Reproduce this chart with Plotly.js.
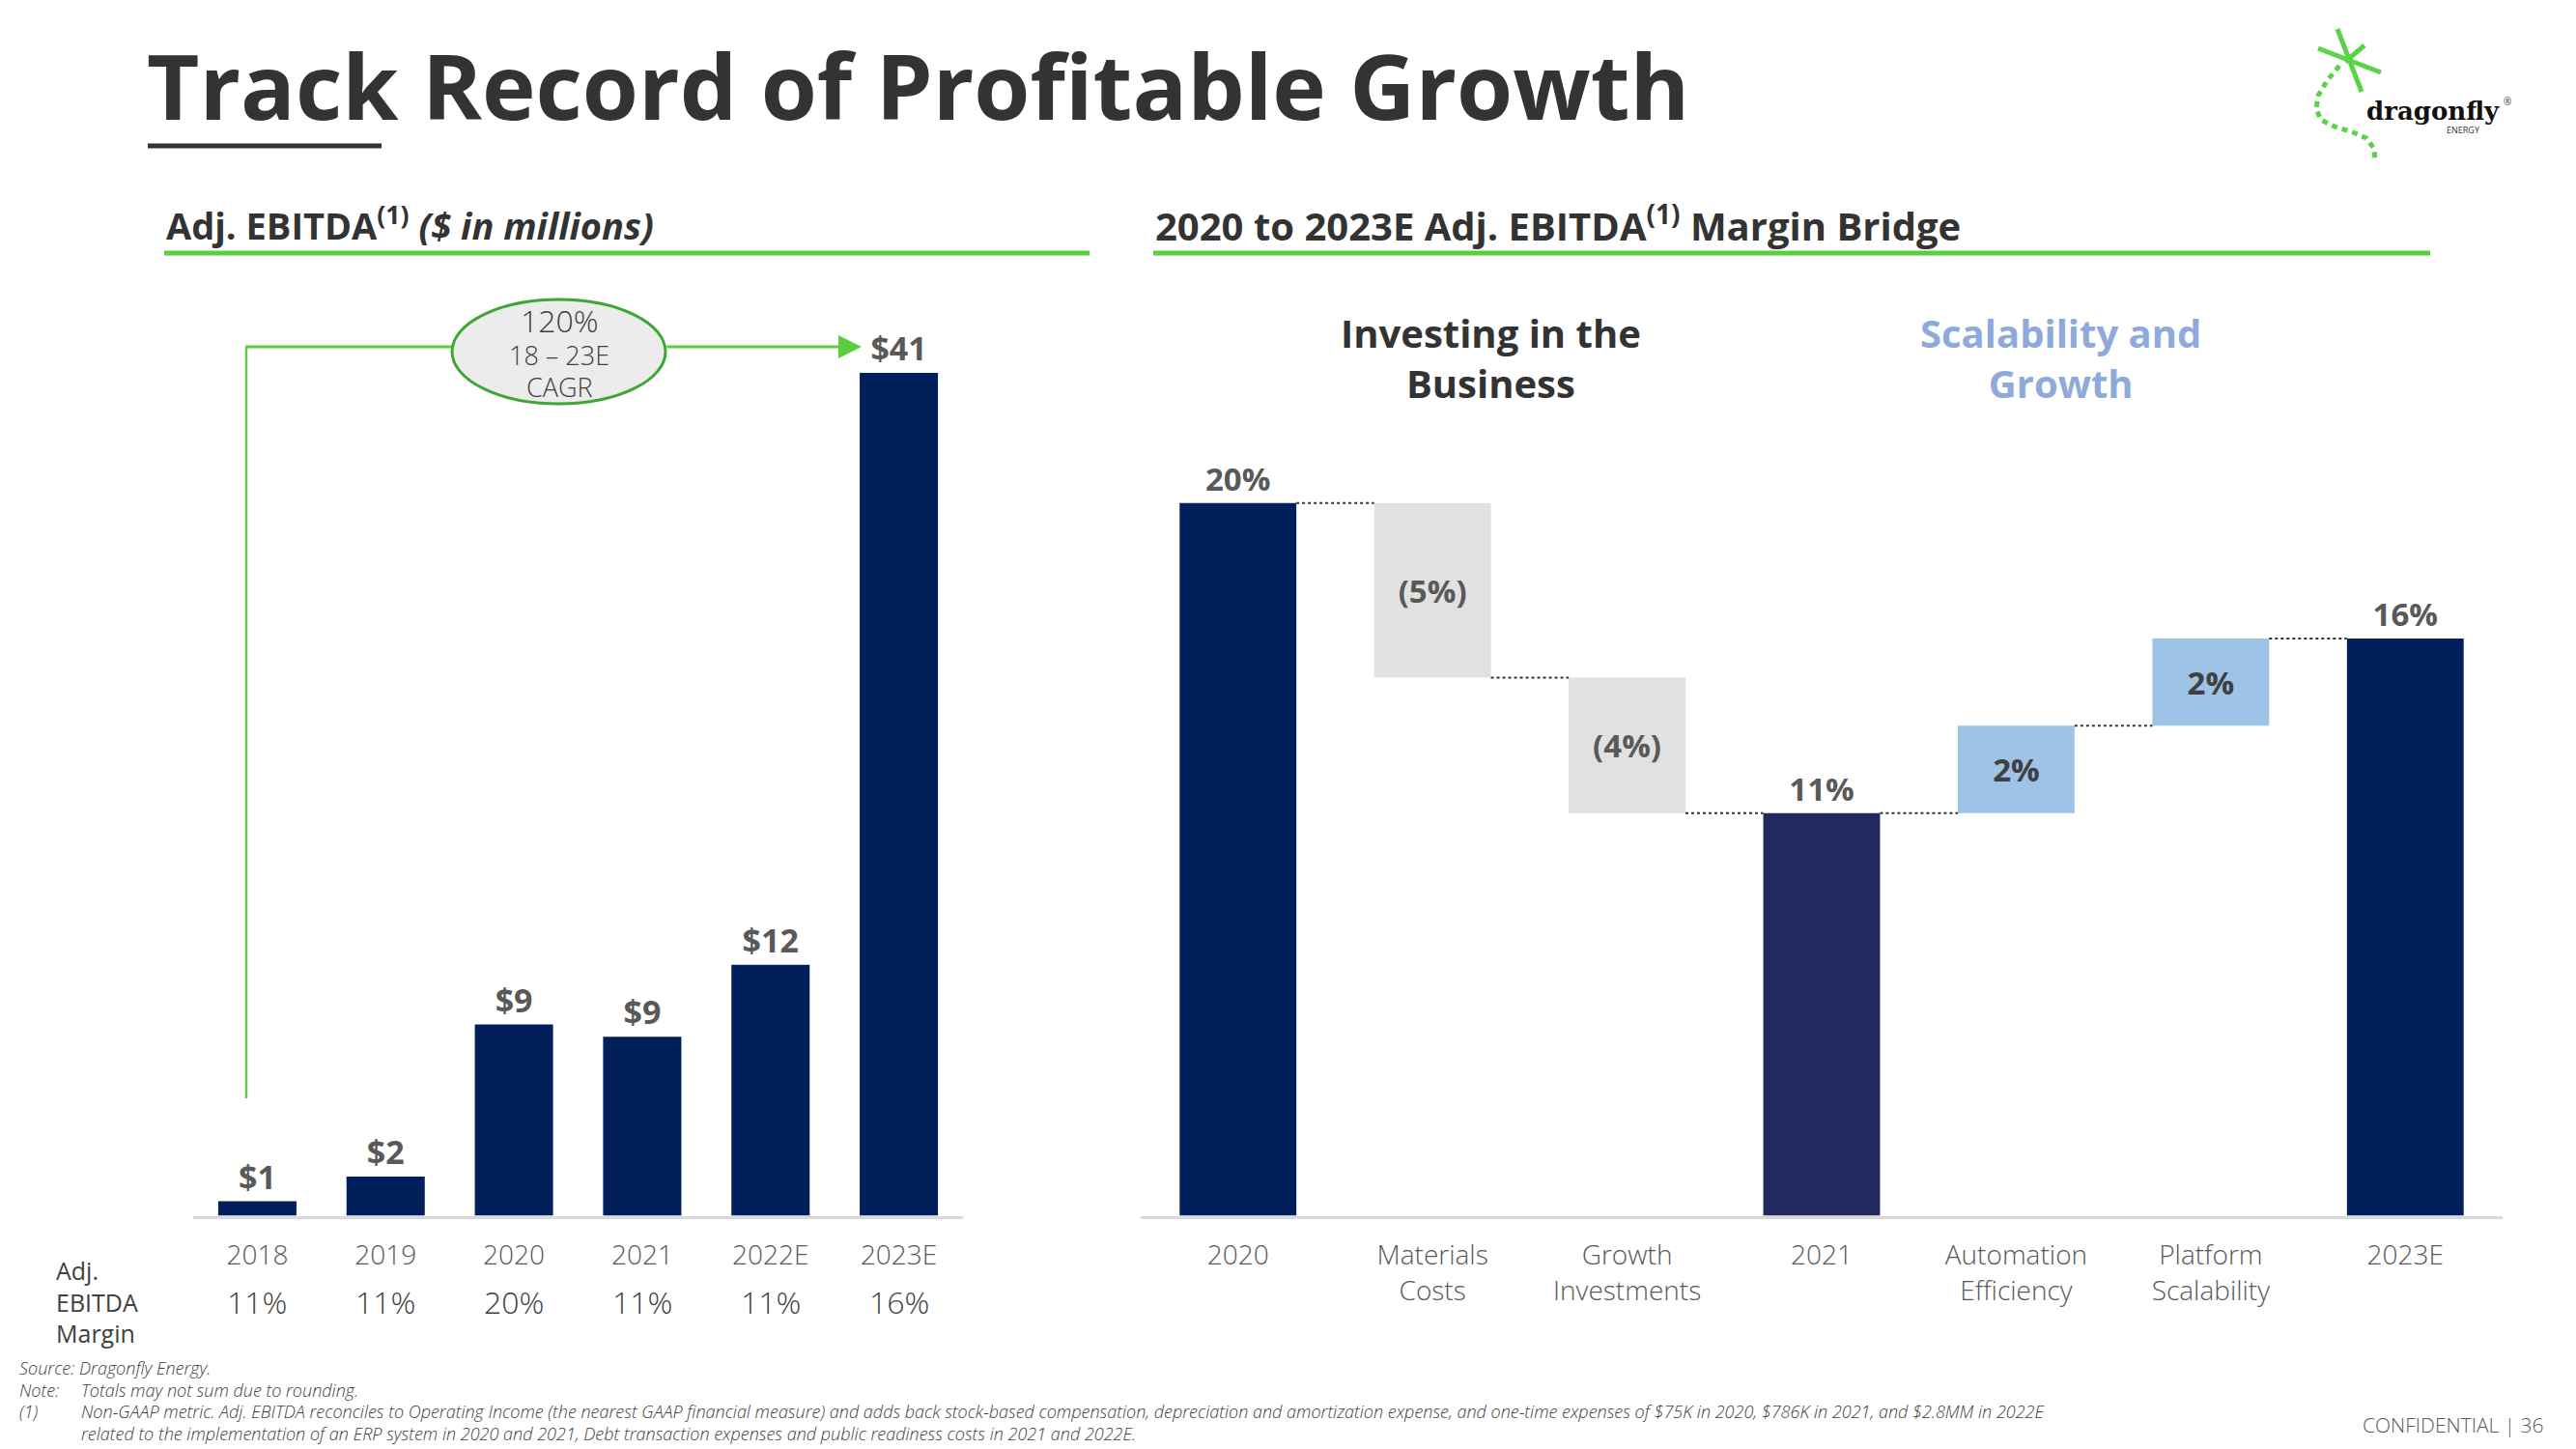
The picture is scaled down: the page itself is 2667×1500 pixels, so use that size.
<!DOCTYPE html>
<html>
<head>
<meta charset="utf-8">
<script src="https://cdn.plot.ly/plotly-3.0.1.min.js"></script>
<style>
html,body{margin:0;padding:0;background:#fff;}
#chart{width:2667px;height:1500px;}
</style>
</head>
<body>
<div id="chart"></div>
<script>
// ---------- DATA ----------
const years = ['2018', '2019', '2020', '2021', '2022E', '2023E'];
const ebitda = [0.7, 1.9, 9.3, 8.7, 12.2, 41.0];          // $ in millions
const ebitdaMargin = [11, 11, 20, 11, 11, 16];             // %
const bridgeCats = ['2020', 'Materials<br>Costs', 'Growth<br>Investments', '2021',
                    'Automation<br>Efficiency', 'Platform<br>Scalability', '2023E'];
const bridgeValues = [20.0, -4.9, -3.8, 0, 2.45, 2.45, 0];   // % points
const bridgeMeasures = ['absolute', 'relative', 'relative', 'total', 'relative', 'relative', 'total'];
const cagrText = ['120%', '18 – 23E', 'CAGR'];

// ---------- HELPERS ----------
const W = 2667, H = 1500;
const px = x => x / W;
const py = y => 1 - y / H;
const FONT = '"Open Sans", "Noto Sans", sans-serif';
const NAVY = '#001F5B';
const GREEN = '#5BCE3F';
const TXT = '#595959';

// Waterfall computation
let running = 0;
const bBase = [], bHeight = [], bColor = [], bText = [], bPos = [], bTextColor = [], levels = [];
bridgeValues.forEach((v, i) => {
  const m = bridgeMeasures[i];
  if (m === 'absolute') { running = v; bBase.push(0); bHeight.push(v); bColor.push(NAVY); }
  else if (m === 'total') { bBase.push(0); bHeight.push(running); bColor.push(i === 3 ? '#212A5F' : NAVY); }
  else {
    const start = running; running += v;
    bBase.push(Math.min(start, running)); bHeight.push(Math.abs(v));
    bColor.push(v < 0 ? '#E1E1E1' : '#9DC3E6');
  }
  levels.push(running);
  const shown = (m === 'relative') ? v : running;
  bText.push(shown < 0 ? '(' + Math.round(-shown) + '%)' : Math.round(shown) + '%');
  bPos.push(m === 'relative' ? 'inside' : 'outside');
  bTextColor.push(m === 'relative' && v > 0 ? '#404040' : TXT);
});

const traces = [
  {
    type: 'bar', x: years, y: ebitda, xaxis: 'x', yaxis: 'y',
    marker: {color: NAVY}, width: 0.61,
    texttemplate: '$%{y:.0f}', textposition: 'outside', cliponaxis: false,
    textfont: {family: FONT, size: 34, color: TXT, weight: 700},
    hoverinfo: 'skip'
  },
  {
    type: 'bar', x: bridgeCats, y: bHeight, base: bBase, xaxis: 'x2', yaxis: 'y2',
    marker: {color: bColor}, width: 0.6,
    text: bText, textposition: bPos, insidetextanchor: 'middle', cliponaxis: false,
    textangle: 0, constraintext: 'none',
    textfont: {family: FONT, size: 33, color: bTextColor, weight: 700},
    hoverinfo: 'skip'
  }
];

const shapes = [];
const annotations = [];
function note(o) {
  annotations.push(Object.assign({xref: 'paper', yref: 'paper', xanchor: 'center', yanchor: 'middle', showarrow: false}, o));
}

// connectors for bridge (dotted), from right edge of bar i to left edge of bar i+1
for (let i = 0; i < bridgeCats.length - 1; i++) {
  shapes.push({type: 'line', xref: 'x2', yref: 'y2',
    x0: i + 0.3, x1: i + 0.7, y0: levels[i], y1: levels[i],
    line: {color: '#333333', width: 2, dash: 'dot'}});
}

// title + underline
note({x: px(150), y: py(88), xanchor: 'left', text: 'Track Record of Profitable Growth',
  font: {family: FONT, size: 94, color: '#333333', weight: 700}});
shapes.push({type: 'line', xref: 'paper', yref: 'paper', x0: px(153), x1: px(395), y0: py(151), y1: py(151),
  line: {color: '#333333', width: 5}});

// section headers
note({x: px(170), y: py(231), xanchor: 'left',
  text: 'Adj. EBITDA<sup>(1)</sup> <i>($ in millions)</i>',
  font: {family: FONT, size: 38, color: '#333333', weight: 700}});
note({x: px(1194), y: py(231), xanchor: 'left',
  text: '2020 to 2023E Adj. EBITDA<sup>(1)</sup> Margin Bridge',
  font: {family: FONT, size: 40, color: '#333333', weight: 700}});
shapes.push({type: 'line', xref: 'paper', yref: 'paper', x0: px(170), x1: px(1128), y0: py(262), y1: py(262),
  line: {color: '#5BCE3F', width: 5}});
shapes.push({type: 'line', xref: 'paper', yref: 'paper', x0: px(1194), x1: px(2516), y0: py(262), y1: py(262),
  line: {color: '#5BCE3F', width: 5}});

// CAGR connector
shapes.push({type: 'line', xref: 'paper', yref: 'paper', x0: px(255), x1: px(255), y0: py(1137), y1: py(359),
  line: {color: GREEN, width: 2.5}});
shapes.push({type: 'line', xref: 'paper', yref: 'paper', x0: px(254), x1: px(470), y0: py(359), y1: py(359),
  line: {color: GREEN, width: 3}});
shapes.push({type: 'circle', xref: 'paper', yref: 'paper', x0: px(468), x1: px(689), y0: py(418), y1: py(310),
  fillcolor: '#ECECEC', line: {color: '#3FA535', width: 3}});
annotations.push({xref: 'paper', yref: 'paper', axref: 'paper', ayref: 'paper',
  x: px(892), y: py(359), ax: px(689), ay: py(359), text: '', showarrow: true,
  arrowhead: 2, arrowsize: 1.6, arrowwidth: 3, arrowcolor: GREEN});
note({x: px(579), y: py(331), text: cagrText[0], font: {family: FONT, size: 32, color: '#404040', weight: 300}});
note({x: px(579), y: py(368), text: cagrText[1], font: {family: FONT, size: 27, color: '#404040', weight: 300}});
note({x: px(579), y: py(401), text: cagrText[2], font: {family: FONT, size: 27, color: '#404040', weight: 300}});

// Margin row
note({x: px(56), y: py(1347), xanchor: 'left', align: 'left', text: 'Adj.<br>EBITDA<br>Margin',
  font: {family: FONT, size: 25, color: '#404040', weight: 400}});
years.forEach((yr, i) => {
  note({xref: 'x', x: i, y: py(1347), text: ebitdaMargin[i] + '%',
    font: {family: FONT, size: 32, color: '#404040', weight: 300}});
});

// Bridge group headers
note({x: px(1543), y: py(370), text: 'Investing in the<br>Business',
  font: {family: FONT, size: 40, color: '#333333', weight: 700}});
note({x: px(2133), y: py(370), text: 'Scalability and<br>Growth',
  font: {family: FONT, size: 40, color: '#8EAADB', weight: 700}});

// Footnotes
const fnFont = {family: FONT, size: 18, color: '#404040', style: 'italic', weight: 300};
[['Source: Dragonfly Energy.', 19, 1416],
 ['Note:', 19, 1438.5], ['Totals may not sum due to rounding.', 83, 1438.5],
 ['(1)', 19, 1461],
 ['Non-GAAP metric. Adj. EBITDA reconciles to Operating Income (the nearest GAAP financial measure) and adds back stock-based compensation, depreciation and amortization expense, and one-time expenses of $75K in 2020, $786K in 2021, and $2.8MM in 2022E', 83, 1461],
 ['related to the implementation of an ERP system in 2020 and 2021, Debt transaction expenses and public readiness costs in 2021 and 2022E.', 83, 1483.5]
].forEach(([t, x, y]) => {
  note({x: px(x), y: py(y), xanchor: 'left', text: t, font: fnFont, borderpad: 0});
});
note({x: px(2636), y: py(1475), xanchor: 'right', text: 'CONFIDENTIAL | 36',
  font: {family: FONT, size: 21, color: TXT, weight: 300}});

// Logo
const LG = '#5CD24A';
[[2400, 50, 2465, 75], [2420, 30, 2445, 95], [2448, 47, 2428, 64]].forEach(([x0, y0, x1, y1]) => {
  shapes.push({type: 'line', xref: 'paper', yref: 'paper', x0: px(x0), y0: py(y0), x1: px(x1), y1: py(y1),
    line: {color: LG, width: 5}});
});
const trail = [[2422, 68], [2409, 84], [2400, 99], [2398, 113], [2403, 124], [2417, 131], [2436, 137], [2450, 143], [2458, 154], [2459, 166]];
shapes.push({type: 'path', xref: 'paper', yref: 'paper',
  path: 'M ' + trail.map(p => px(p[0]) + ',' + py(p[1])).join(' L '),
  line: {color: LG, width: 5, dash: '6px,5px'}});
note({x: px(2519), y: py(115), text: 'dragonfly',
  font: {family: '"DejaVu Serif", serif', size: 26, color: '#111111', weight: 700}});
note({x: px(2550), y: py(134), text: 'ENERGY', font: {family: FONT, size: 9, color: '#333333', weight: 400}});
note({x: px(2596), y: py(105), text: '®', font: {family: FONT, size: 10, color: '#333333'}});

const axisCommon = {
  showgrid: false, zeroline: false, showline: true, linecolor: '#D9D9D9', linewidth: 3,
  ticks: 'outside', ticklen: 14, tickcolor: 'rgba(0,0,0,0)', tickwidth: 1,
  tickfont: {family: FONT, size: 28, color: TXT, weight: 300}, type: 'category', fixedrange: true
};
const yCommon = {showgrid: false, zeroline: false, showline: false, showticklabels: false, ticks: '', fixedrange: true};

const layout = {
  width: W, height: H, margin: {l: 0, r: 0, t: 0, b: 0},
  paper_bgcolor: '#ffffff', plot_bgcolor: 'rgba(0,0,0,0)',
  showlegend: false, barmode: 'overlay',
  xaxis: Object.assign({}, axisCommon, {domain: [px(200), px(997)], anchor: 'y',
    range: [-0.5, years.length - 0.5], autorange: false}),
  yaxis: Object.assign({}, yCommon, {domain: [py(1258.5), py(237)], range: [0, 48], anchor: 'x'}),
  xaxis2: Object.assign({}, axisCommon, {domain: [px(1181), px(2591)], anchor: 'y2',
    range: [-0.5, bridgeCats.length - 0.5], autorange: false}),
  yaxis2: Object.assign({}, yCommon, {domain: [py(1258.5), py(447)], range: [0, 22], anchor: 'x2'}),
  shapes: shapes, annotations: annotations,
  font: {family: FONT}
};

Plotly.newPlot('chart', traces, layout, {displayModeBar: false, staticPlot: true});
</script>
</body>
</html>
